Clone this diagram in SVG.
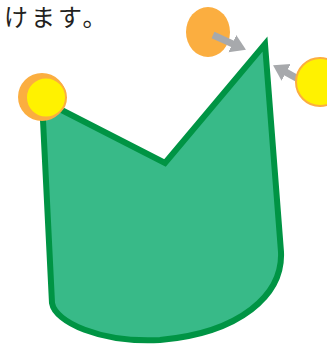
<svg xmlns="http://www.w3.org/2000/svg" width="327" height="344" viewBox="0 0 327 344">
<defs>
<style>
.shape{fill:#38BA88;stroke:#009444;stroke-width:6;stroke-linejoin:miter;stroke-miterlimit:10}
.orange{fill:#FBAE40}
.yellow{fill:#FFF200;stroke:#FBAE40;stroke-width:2}
.arrow{stroke:#A7A9AC;stroke-width:7;fill:none}
.label{font-family:"Noto Sans CJK JP","Noto Sans",sans-serif;font-size:24px;letter-spacing:3px;fill:#231F20}
</style>
<marker id="head" markerUnits="userSpaceOnUse" markerWidth="16" markerHeight="20" refX="1" refY="9.5" orient="auto">
<path d="M0,0 L15,9.5 L0,19 z" fill="#A7A9AC"/>
</marker>
</defs>
<text class="label" x="4" y="26">けます。</text>
<g id="shape">
<path class="shape" d="M42,100 L165,163 L265,44 L281,252 C283,295 240,333 160,340 C100,343 55,322 52,303 Z"/>
</g>
<g id="ball-left">
<circle class="orange" cx="42" cy="97" r="24"/>
<circle class="yellow" cx="46" cy="97.5" r="20"/>
</g>
<g id="ball-top">
<ellipse class="orange" cx="208" cy="32" rx="22" ry="25"/>
</g>
<g id="connectors">
<line class="arrow" x1="213" y1="35" x2="233.2" y2="44.1" marker-end="url(#head)"/>
<line class="arrow" x1="300" y1="80" x2="285.3" y2="71.9" marker-end="url(#head)"/>
</g>
<g id="ball-right">
<circle class="yellow" cx="320" cy="82" r="24"/>
</g>
</svg>
